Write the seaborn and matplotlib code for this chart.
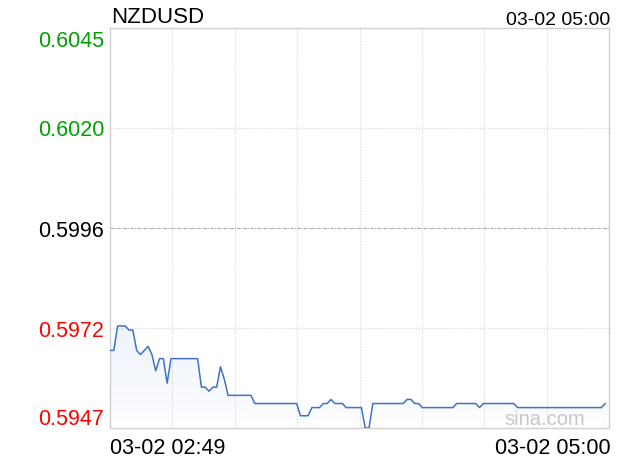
import matplotlib
matplotlib.use("Agg")
import matplotlib.pyplot as plt
import seaborn as sns
import numpy as np
import pandas as pd

# data
symbol = "NZDUSD"
start_time = "2020-03-02 02:49"
end_time = "2020-03-02 05:00"
prices = [
    0.5966, 0.5966, 0.5972, 0.5972, 0.5972, 0.5971, 0.5971, 0.5966, 0.5965, 0.5966,
    0.5967, 0.5965, 0.5961, 0.5964, 0.5964, 0.5958, 0.5964, 0.5964, 0.5964, 0.5964,
    0.5964, 0.5964, 0.5964, 0.5964, 0.5957, 0.5957, 0.5956, 0.5957, 0.5957, 0.5962,
    0.5959, 0.5955, 0.5955, 0.5955, 0.5955, 0.5955, 0.5955, 0.5955, 0.5953, 0.5953,
    0.5953, 0.5953, 0.5953, 0.5953, 0.5953, 0.5953, 0.5953, 0.5953, 0.5953, 0.5953,
    0.5950, 0.5950, 0.5950, 0.5952, 0.5952, 0.5952, 0.5953, 0.5953, 0.5954, 0.5953,
    0.5953, 0.5953, 0.5952, 0.5952, 0.5952, 0.5952, 0.5952, 0.5947, 0.5947, 0.5953,
    0.5953, 0.5953, 0.5953, 0.5953, 0.5953, 0.5953, 0.5953, 0.5953, 0.5954, 0.5954,
    0.5953, 0.5953, 0.5952, 0.5952, 0.5952, 0.5952, 0.5952, 0.5952, 0.5952, 0.5952,
    0.5952, 0.5953, 0.5953, 0.5953, 0.5953, 0.5953, 0.5953, 0.5952, 0.5953, 0.5953,
    0.5953, 0.5953, 0.5953, 0.5953, 0.5953, 0.5953, 0.5953, 0.5952, 0.5952, 0.5952,
    0.5952, 0.5952, 0.5952, 0.5952, 0.5952, 0.5952, 0.5952, 0.5952, 0.5952, 0.5952,
    0.5952, 0.5952, 0.5952, 0.5952, 0.5952, 0.5952, 0.5952, 0.5952, 0.5952, 0.5952,
    0.5953,
]
y_ticks = [0.5947, 0.59715, 0.5996, 0.60205, 0.6045]
y_labels = ["0.5947", "0.5972", "0.5996", "0.6020", "0.6045"]
y_colors = ["#ff0000", "#ff0000", "#000000", "#00a000", "#00a000"]
x_labels = ["03-02 02:49", "03-02 05:00"]

times = pd.date_range(start_time, periods=len(prices), freq="min")
df = pd.DataFrame({"time": times, "price": prices})

sns.set_style("white")
plt.rcParams['font.family'] = ['Liberation Sans', 'DejaVu Sans']

W, H = 620, 460
fig = plt.figure(figsize=(6.2, 4.6), dpi=100)
ax = fig.add_axes([110/W, 1 - 429/H, 499/W, 400/H])

t0 = pd.Timestamp(start_time)
t1 = pd.Timestamp(end_time)
ax.set_xlim(t0, t1)
ax.set_ylim(y_ticks[0], y_ticks[-1])

# grid
for k in range(1, 8):
    ax.axvline(t0 + (t1 - t0) * k / 8, color="#d4d4d4", lw=0.8, ls=(0, (1, 1.5)), zorder=0)
for v in [y_ticks[1], y_ticks[3]]:
    ax.axhline(v, color="#d4d4d4", lw=0.8, ls=(0, (1, 1.5)), zorder=0)
ax.axhline(y_ticks[2], color="#a8a8a8", lw=0.8, ls=(0, (3, 1, 1, 1)), zorder=0)

# gradient fill under the line
poly = ax.fill_between(df["time"], df["price"], y_ticks[0], color="none", lw=0)
xl = ax.get_xlim()
fade = np.linspace(0, 1, 256) ** 0.7
rgba = np.zeros((256, 1, 4))
rgba[:, 0, 0] = 0.29
rgba[:, 0, 1] = 0.50
rgba[:, 0, 2] = 0.85
rgba[:, 0, 3] = 0.09 * fade
top = max(prices)
img = ax.imshow(rgba, extent=[xl[0], xl[1], y_ticks[0], top], origin="lower",
                aspect="auto", zorder=1)
img.set_clip_path(poly.get_paths()[0], transform=ax.transData)
ax.set_xlim(xl)
ax.set_ylim(y_ticks[0], y_ticks[-1])

sns.lineplot(data=df, x="time", y="price", ax=ax, color="#3f72c8", lw=1.1, zorder=3)

for s in ax.spines.values():
    s.set_color("#d0d0d0")
    s.set_linewidth(1.0)

ax.set_xticks([])
ax.set_yticks([])
ax.set_xlabel(None)
ax.set_ylabel(None)

# y labels (baselines in pixels)
y_base = [425, 337, 237, 136.5, 46.7]
for b, lab, c in zip(y_base, y_labels, y_colors):
    fig.text(104/W, 1 - b/H, lab, ha="right", va="baseline", color=c, fontsize=15.5)

fig.text(111/W, 1 - 23.3/H, symbol, ha="left", va="baseline", fontsize=16, color="black")
fig.text(610/W, 1 - 25/H, x_labels[1], ha="right", va="baseline", fontsize=14, color="black")
fig.text(110/W, 1 - 454/H, x_labels[0], ha="left", va="baseline", fontsize=15.5, color="black")
fig.text(611/W, 1 - 454/H, x_labels[1], ha="right", va="baseline", fontsize=15.5, color="black")
fig.text(585/W, 1 - 425/H, "sina.com", ha="right", va="baseline", fontsize=14.5, color="#c8c8c8")

fig.savefig("out.png", dpi=100)
